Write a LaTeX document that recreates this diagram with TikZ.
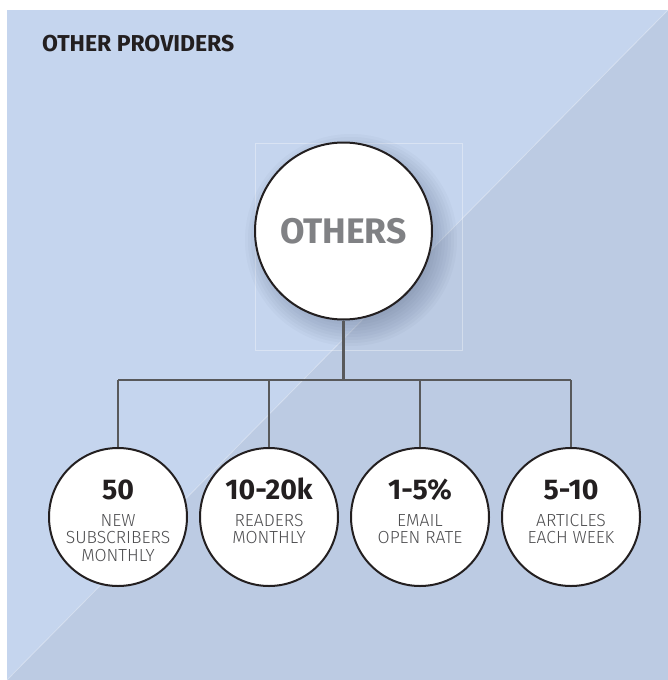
\documentclass[tikz,border=0pt]{standalone}
\usepackage{fontspec}
\setmainfont{Fira Sans}
\newfontfamily\lightfont{Fira Sans Light}
\definecolor{bglight}{HTML}{C5D5EE}
\definecolor{bgdark}{HTML}{BCCBE3}
\definecolor{linegray}{HTML}{58595B}
\definecolor{numcol}{HTML}{231F20}
\definecolor{txtcol}{HTML}{4D4D4F}
\definecolor{othcol}{HTML}{808184}
\definecolor{shadowcol}{HTML}{3A4A6A}
\tikzset{
  bigcirc/.style={circle, draw=numcol, line width=2pt, fill=white, minimum size=177pt, inner sep=0pt},
  smallcirc/.style={circle, draw=numcol, line width=2pt, fill=white, minimum size=138pt, inner sep=0pt},
  numtxt/.style={font=\bfseries\fontsize{28.5}{30}\selectfont, text=numcol, anchor=base, inner sep=0pt},
  lbltxt/.style={font=\lightfont\fontsize{17.5}{17.5}\selectfont, text=txtcol, align=center, anchor=north, inner sep=0pt},
  conn/.style={draw=linegray, line width=2.4pt}
}
\begin{document}
\begin{tikzpicture}[x=1pt,y=-1pt]
\useasboundingbox (0,0) rectangle (668,680);
\fill[white] (0,0) rectangle (668,680);
\fill[bglight] (7,10) rectangle (668,680);
\fill[bgdark] (668,10) -- (668,680) -- (7,680) -- cycle;
\draw[white, opacity=0.35, line width=0.8pt] (668,10) -- (7,680);
\node[anchor=base west, inner sep=0pt, font=\bfseries\fontsize{23}{25}\selectfont, text=numcol] (title) at (42,51) {OTHER PROVIDERS};
\draw[white, opacity=0.35, line width=0.8pt] (255,143) rectangle (462,350);
\foreach \r in {76,79,...,106} {
  \fill[shadowcol, opacity=0.035] (351,240) circle (\r pt);
}
\node[bigcirc] (top) at (343.5,231) {};
\node[anchor=base, inner sep=0pt, font=\bfseries\fontsize{35.5}{38}\selectfont, text=othcol] (toptxt) at (343.5,243) {OTHERS};
\coordinate (hub) at (343.5,380);
\coordinate (hl) at (118,380);
\coordinate (hr) at (571,380);
\node[smallcirc] (c1) at (118,517) {};
\node[smallcirc] (c2) at (269,517) {};
\node[smallcirc] (c3) at (420,517) {};
\node[smallcirc] (c4) at (571,517) {};
\coordinate (j2) at (269,380);
\coordinate (j3) at (420,380);
\draw[conn] (top.south) -- (hub);
\draw[conn] (hl) -- (hr);
\draw[conn] (hl) -- (c1.north);
\draw[conn] (j2) -- (c2.north);
\draw[conn] (j3) -- (c3.north);
\draw[conn] (hr) -- (c4.north);
\node[numtxt] (n1) at (118,499) {50};
\node[numtxt] (n2) at (269,499) {10-20k};
\node[numtxt] (n3) at (420,499) {1-5\%};
\node[numtxt] (n4) at (571,499) {5-10};
\node[lbltxt] (l1) at (118,514) {NEW\\SUBSCRIBERS\\MONTHLY};
\node[lbltxt] (l2) at (269,514) {READERS\\MONTHLY};
\node[lbltxt] (l3) at (420,514) {EMAIL\\OPEN RATE};
\node[lbltxt] (l4) at (571,514) {ARTICLES\\EACH WEEK};
\end{tikzpicture}
\end{document}
